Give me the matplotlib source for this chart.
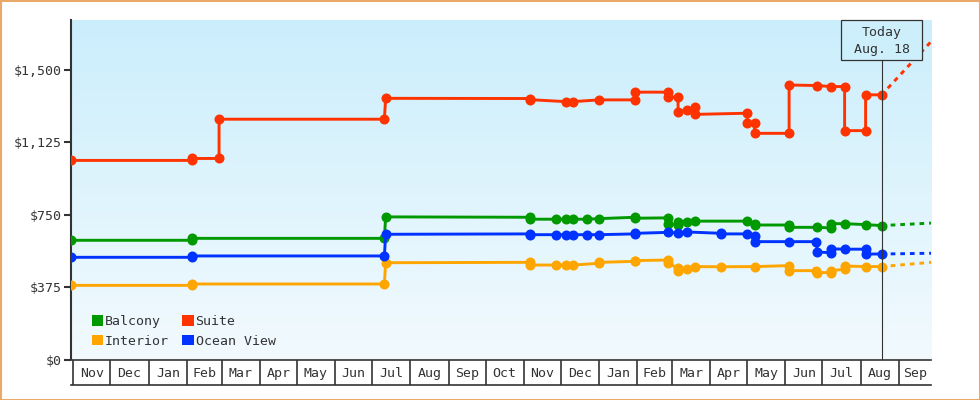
import matplotlib
matplotlib.use("Agg")
import matplotlib.pyplot as plt
import matplotlib.dates as mdates
from matplotlib.patches import Rectangle, Patch
import numpy as np
import datetime as dt

# ---------------- data ----------------
series_names = ["Balcony", "Interior", "Suite", "Ocean View"]
series_colors = ["#009900", "#ffa500", "#ff3300", "#0033ff"]

balcony_dates = ["2020-10-30", "2021-02-05", "2021-02-05", "2021-07-11", "2021-07-12",
                 "2021-11-06", "2021-11-06", "2021-11-27", "2021-12-05", "2021-12-11",
                 "2021-12-22", "2022-01-01", "2022-01-30", "2022-01-30", "2022-02-26",
                 "2022-02-26", "2022-03-06", "2022-03-06", "2022-03-13", "2022-03-20",
                 "2022-05-01", "2022-05-07", "2022-05-07", "2022-06-04", "2022-06-04",
                 "2022-06-27", "2022-07-08", "2022-07-08", "2022-07-19", "2022-08-05",
                 "2022-08-18"]
balcony_prices = [619, 619, 629, 629, 740,
                  738, 728, 728, 728, 728,
                  728, 731, 738, 733, 735,
                  703, 700, 715, 715, 718,
                  718, 703, 698, 698, 686,
                  686, 683, 705, 705, 700,
                  695]

interior_dates = ["2020-10-30", "2021-02-05", "2021-02-05", "2021-07-11", "2021-07-12",
                  "2021-11-06", "2021-11-06", "2021-11-27", "2021-12-05", "2021-12-11",
                  "2022-01-01", "2022-01-01", "2022-01-30", "2022-01-30", "2022-02-26",
                  "2022-02-26", "2022-03-06", "2022-03-06", "2022-03-13", "2022-03-20",
                  "2022-04-10", "2022-05-07", "2022-06-04", "2022-06-04", "2022-06-26",
                  "2022-06-27", "2022-07-08", "2022-07-08", "2022-07-19", "2022-07-19",
                  "2022-08-05", "2022-08-18"]
interior_prices = [386, 386, 393, 393, 503,
                   505, 491, 491, 491, 491,
                   500, 505, 510, 514, 517,
                   500, 475, 462, 471, 483,
                   482, 483, 488, 462, 462,
                   452, 452, 462, 469, 486,
                   483, 483]

suite_dates = ["2020-10-30", "2021-02-05", "2021-02-05", "2021-02-27", "2021-02-27",
               "2021-07-11", "2021-07-12", "2021-11-06", "2021-11-06", "2021-12-05",
               "2021-12-11", "2022-01-01", "2022-01-30", "2022-01-30", "2022-02-26",
               "2022-02-26", "2022-03-06", "2022-03-06", "2022-03-13", "2022-03-20",
               "2022-03-20", "2022-05-01", "2022-05-01", "2022-05-07", "2022-05-07",
               "2022-06-04", "2022-06-04", "2022-06-27", "2022-07-08", "2022-07-19",
               "2022-07-19", "2022-08-05", "2022-08-05", "2022-08-18"]
suite_prices = [1032, 1032, 1042, 1042, 1245,
                1245, 1353, 1352, 1346, 1336,
                1336, 1345, 1345, 1385, 1385,
                1359, 1359, 1284, 1293, 1310,
                1270, 1276, 1224, 1224, 1172,
                1172, 1422, 1419, 1414, 1414,
                1186, 1186, 1371, 1371]

ocean_dates = ["2020-10-30", "2021-02-05", "2021-02-05", "2021-07-11", "2021-07-12",
               "2021-11-06", "2021-11-06", "2021-11-27", "2021-12-05", "2021-12-11",
               "2021-12-22", "2022-01-01", "2022-01-30", "2022-01-30", "2022-02-26",
               "2022-03-06", "2022-03-13", "2022-04-10", "2022-04-10", "2022-05-01",
               "2022-05-07", "2022-05-07", "2022-06-04", "2022-06-26", "2022-06-27",
               "2022-07-08", "2022-07-08", "2022-07-19", "2022-08-05", "2022-08-05",
               "2022-08-18"]
ocean_prices = [531, 531, 538, 538, 650,
                652, 648, 648, 648, 648,
                648, 648, 652, 655, 660,
                657, 662, 655, 652, 652,
                640, 612, 612, 612, 558,
                555, 575, 573, 573, 548,
                548]

today_date = "2022-08-18"
forecast_end = "2022-09-27"
forecast_prices = [708, 505, 1646, 552]  # Balcony, Interior, Suite, Ocean View

y_ticks = [0, 375, 750, 1125, 1500]
y_tick_labels = ["$0", "$375", "$750", "$1,125", "$1,500"]
month_labels = ["Nov", "Dec", "Jan", "Feb", "Mar", "Apr", "May", "Jun", "Jul", "Aug",
                "Sep", "Oct", "Nov", "Dec", "Jan", "Feb", "Mar", "Apr", "May", "Jun",
                "Jul", "Aug", "Sep"]
x_start = "2020-10-30"
x_end = "2022-09-27"

# ---------------- style ----------------
plt.rcParams['font.family'] = ['DejaVu Sans Mono', 'DejaVu Sans']
FS = 9.5
DARK = "#333333"


def d(s):
    return dt.datetime.strptime(s, "%Y-%m-%d")


W, H = 980, 400
fig = plt.figure(figsize=(W / 100, H / 100), dpi=100)
fig.patch.set_facecolor("white")
ax = fig.add_axes([71 / W, 40 / H, 860 / W, 340 / H])
band = fig.add_axes([71 / W, 15 / H, 860 / W, 25 / H], sharex=ax)

xmin, xmax = mdates.date2num(d(x_start)), mdates.date2num(d(x_end))
ax.set_xlim(xmin, xmax)
ax.set_ylim(0, 1758)

# gradient background
grad = np.linspace(0, 1, 256).reshape(-1, 1)
top = np.array([203, 238, 252]) / 255
bot = np.array([242, 250, 254]) / 255
img = top[None, None, :] * (1 - grad[:, :, None]) + bot[None, None, :] * grad[:, :, None]
ax.imshow(img, extent=[0, 1, 0, 1], transform=ax.transAxes, aspect="auto", zorder=0)
ax.set_facecolor("none")

all_dates = [balcony_dates, interior_dates, suite_dates, ocean_dates]
all_prices = [balcony_prices, interior_prices, suite_prices, ocean_prices]

for name, col, ds, ps, fp in zip(series_names, series_colors, all_dates, all_prices, forecast_prices):
    xs = [d(s) for s in ds]
    ax.plot(xs, ps, color=col, lw=2.1, marker="o", ms=6.2, mec=col, mfc=col,
            zorder=3, solid_joinstyle="miter")
    ax.plot([d(today_date), d(forecast_end)], [ps[-1], fp], color=col, lw=2.1,
            linestyle=(3.5, (1.6, 1.7)), zorder=3, clip_on=False)

# today marker
tx = (mdates.date2num(d(today_date)) - xmin) / (xmax - xmin)
box_top_px, box_bot_px = 20, 60
box_frac = (360 - box_bot_px) / 340
ax.axvline(d(today_date), ymin=0, ymax=box_frac, color=DARK, lw=0.8, zorder=4)
ax.add_patch(Rectangle((tx - 40.5 / 860, box_frac), 81 / 860, 1 - box_frac,
                       transform=ax.transAxes, facecolor="#cdeffc", edgecolor=DARK,
                       lw=0.9, zorder=5, clip_on=False))
ax.text(tx, (360 - 32.3) / 340, "Today", transform=ax.transAxes, ha="center",
        va="center", fontsize=FS, color=DARK, zorder=6)
ax.text(tx, (360 - 50) / 340, "Aug. 18", transform=ax.transAxes, ha="center",
        va="center", fontsize=FS, color=DARK, zorder=6)

# axes styling
for s in ["top", "right", "bottom"]:
    ax.spines[s].set_visible(False)
ax.spines["left"].set_color(DARK)
ax.spines["left"].set_linewidth(1.5)
ax.spines["left"].set_zorder(2)
ax.set_yticks(y_ticks)
ax.set_yticklabels(y_tick_labels)
ax.tick_params(axis="y", direction="out", length=5, width=1.5, color=DARK,
               labelcolor=DARK, labelsize=FS, pad=2)
ax.tick_params(axis="x", bottom=False, labelbottom=False)

# legend
handles = [Patch(facecolor=c, edgecolor="none") for c in series_colors]
leg = ax.legend(handles, series_names, ncol=2, loc="upper left",
                bbox_to_anchor=(21 / 860, (360 - 315) / 340), frameon=False,
                fontsize=FS, handlelength=0.85, handleheight=0.85,
                handletextpad=0.15, columnspacing=1.0, labelspacing=0.5,
                borderpad=0, borderaxespad=0)
for t in leg.get_texts():
    t.set_color(DARK)

# month band
band.set_ylim(0, 1)
band.set_facecolor("white")
for s in ["left", "right"]:
    band.spines[s].set_visible(False)
for s in ["top", "bottom"]:
    band.spines[s].set_color(DARK)
    band.spines[s].set_linewidth(1.2)
band.tick_params(left=False, labelleft=False, bottom=False, labelbottom=False)
starts = []
y0, m0 = 2020, 11
for i in range(len(month_labels)):
    yy = y0 + (m0 - 1 + i) // 12
    mm = (m0 - 1 + i) % 12 + 1
    starts.append(mdates.date2num(dt.datetime(yy, mm, 1)))
ends = starts[1:] + [xmax]
for lab, s0, s1 in zip(month_labels, starts, ends):
    band.axvline(s0, color=DARK, lw=1.2)
    band.text((s0 + min(s1, xmax)) / 2, 0.45, lab, ha="center", va="center",
              fontsize=FS, color=DARK)

# outer border
fig.patches.append(Rectangle((0.5 / W, 0.5 / H), 1 - 1 / W, 1 - 1 / H,
                             transform=fig.transFigure, fill=False,
                             edgecolor="#e8a96a", lw=1.5))

fig.savefig("out.png", dpi=100)
